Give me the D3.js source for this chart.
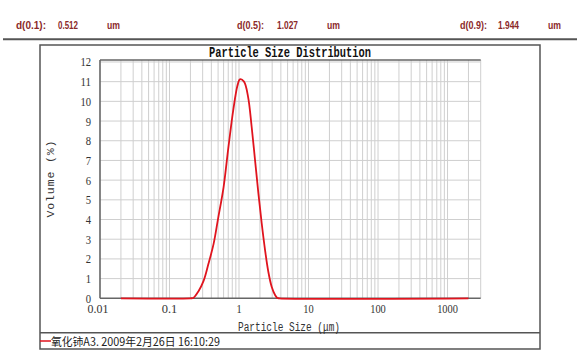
<!DOCTYPE html>
<html><head><meta charset="utf-8">
<script src="https://cdn.jsdelivr.net/npm/d3@7"></script>
<style>html,body{margin:0;padding:0;background:#fff;}svg{display:block;}</style>
</head><body>
<svg id="chart" width="580" height="358"></svg>
<script>
// ---- data ----
const headerLabels = ["d(0.1):", "d(0.5):", "d(0.9):"];
const headerValues = ["0.512", "1.027", "1.944"];
const headerUnit = "um";
const chartTitle = "Particle Size Distribution";
const xTitle = "Particle Size (μm)";
const yTitle = "Volume (%)";
const legendText = "氧化铈A3. 2009年2月26日 16:10:29";
const sizes  = [0.02, 0.20, 0.22, 0.26, 0.31, 0.36, 0.43, 0.50, 0.60, 0.70, 0.83, 0.95, 1.03, 1.18, 1.35, 1.52, 1.70, 1.90, 2.12, 2.37, 2.64, 2.95, 3.30, 3.56, 3.80, 2000];
const volume = [0,    0,    0.02, 0.35, 0.90, 1.70, 2.75, 4.05, 5.65, 7.60, 9.60, 10.80, 11.12, 11.0, 10.23, 8.71, 7.02, 5.33, 3.81, 2.45, 1.35, 0.59, 0.17, 0.02, 0,   0];
const xTickValues = [0.01, 0.1, 1, 10, 100, 1000];
const xTickLabels = ["0.01", "0.1", "1", "10", "100", "1000"];
const yTickValues = [0,1,2,3,4,5,6,7,8,9,10,11,12];

// ---- layout ----
const svg = d3.select("#chart");
const x = d3.scaleLog().domain([0.01, 3000]).range([100, 480.7]);
const y = d3.scaleLinear().domain([0, 12.1]).range([298.3, 60]);

// header
const hdrX = [[16,58,107],[237,277,327],[460,498,548]];
const hdrW = [[30,20,13],[27,21,13],[27,21,13]];
headerLabels.forEach((lab,i)=>{
  [lab, headerValues[i], headerUnit].forEach((t,j)=>{
    svg.append("text").attr("x",hdrX[i][j]).attr("y",28.5)
      .attr("textLength",hdrW[i][j]).attr("lengthAdjust","spacingAndGlyphs")
      .style("font-family","Liberation Sans, Arial, sans-serif").style("font-size","11px")
      .style("font-weight","bold")
      .attr("fill","#8b2a2a").text(t);
  });
});
svg.append("line").attr("x1",3).attr("x2",577).attr("y1",39.3).attr("y2",39.3)
  .attr("stroke","#555").attr("stroke-width",2);

// outer box
svg.append("rect").attr("x",40).attr("y",45).attr("width",500).attr("height",304)
  .attr("fill","none").attr("stroke","#555").attr("stroke-width",1.5);
svg.append("line").attr("x1",40).attr("x2",540).attr("y1",332.7).attr("y2",332.7)
  .attr("stroke","#555").attr("stroke-width",1.5);

// grid
const g = svg.append("g");
const minor = [];
for (let e=-2; e<=3; e++) for (let m=1; m<=9; m++){ const v=m*Math.pow(10,e); if (v>0.0100001 && v<=3000.0001) minor.push(v); }
g.selectAll("line.vg").data(minor).enter().append("line")
  .attr("x1",d=>x(d)).attr("x2",d=>x(d)).attr("y1",y.range()[1]).attr("y2",y(0))
  .attr("stroke","#cfcfcf").attr("stroke-width",1);
g.selectAll("line.hg").data(yTickValues.slice(1)).enter().append("line")
  .attr("x1",x(0.01)).attr("x2",x(3000)).attr("y1",d=>y(d)).attr("y2",d=>y(d))
  .attr("stroke","#cfcfcf").attr("stroke-width",1);

// frame lines
svg.append("line").attr("x1",x(0.01)).attr("x2",x(3000)).attr("y1",y.range()[1]).attr("y2",y.range()[1])
  .attr("stroke","#666").attr("stroke-width",1.6);
svg.append("line").attr("x1",x(0.01)).attr("x2",x(0.01)).attr("y1",y.range()[1]).attr("y2",y(0))
  .attr("stroke","#666").attr("stroke-width",1.6);
svg.append("line").attr("x1",x(0.01)).attr("x2",x(3000)).attr("y1",y(0)).attr("y2",y(0))
  .attr("stroke","#666").attr("stroke-width",1.6);

// curve
const pts = sizes.map((s,i)=>[s, volume[i]]);
const line = d3.line().x(d=>x(d[0])).y(d=>y(Math.max(0,d[1]))).curve(d3.curveCatmullRom.alpha(0.5));
svg.append("path").datum(pts).attr("d",line).attr("fill","none")
  .attr("stroke","#e0141e").attr("stroke-width",1.8);

// y tick labels
svg.selectAll("text.yt").data(yTickValues).enter().append("text")
  .attr("x",91).attr("y",d=>y(d)+4.5).attr("text-anchor","end")
  .attr("textLength",d=>String(d).length*5.3).attr("lengthAdjust","spacingAndGlyphs")
  .style("font-family","Liberation Serif, serif").style("font-size","13px")
  .attr("fill","#333").text(d=>d);

// x tick labels
svg.selectAll("text.xt").data(xTickValues).enter().append("text")
  .attr("x",(d,i)=>x(d) - (i===0?2:0)).attr("y",313).attr("text-anchor","middle")
  .attr("textLength",(d,i)=>xTickLabels[i].length*5.2).attr("lengthAdjust","spacingAndGlyphs")
  .style("font-family","Liberation Serif, serif").style("font-size","13px")
  .attr("fill","#333").text((d,i)=>xTickLabels[i]);

// titles
svg.append("text").attr("x",290).attr("y",57).attr("text-anchor","middle")
  .attr("textLength",162).attr("lengthAdjust","spacingAndGlyphs")
  .style("font-family","Liberation Mono, monospace").style("font-size","14px")
  .style("font-weight","bold")
  .attr("fill","#111").text(chartTitle);
svg.append("text").attr("x",289).attr("y",331).attr("text-anchor","middle")
  .attr("textLength",102).attr("lengthAdjust","spacingAndGlyphs")
  .style("font-family","Liberation Mono, monospace").style("font-size","12.5px")
  .attr("fill","#333").text(xTitle);
svg.append("text").attr("transform","translate(54,179) rotate(-90)").attr("text-anchor","middle")
  .attr("textLength",77).attr("lengthAdjust","spacing")
  .style("font-family","Liberation Mono, monospace").style("font-size","11.5px")
  .attr("fill","#333").text(yTitle);

// legend
svg.append("line").attr("x1",40).attr("x2",51).attr("y1",341).attr("y2",341)
  .attr("stroke","#e0141e").attr("stroke-width",1.5);
svg.append("text").attr("x",51).attr("y",345.5)
  .attr("textLength",169).attr("lengthAdjust","spacingAndGlyphs")
  .style("font-family","Noto Sans CJK SC, sans-serif").style("font-size","11.5px")
  .attr("fill","#222").text(legendText);
</script>
</body></html>
